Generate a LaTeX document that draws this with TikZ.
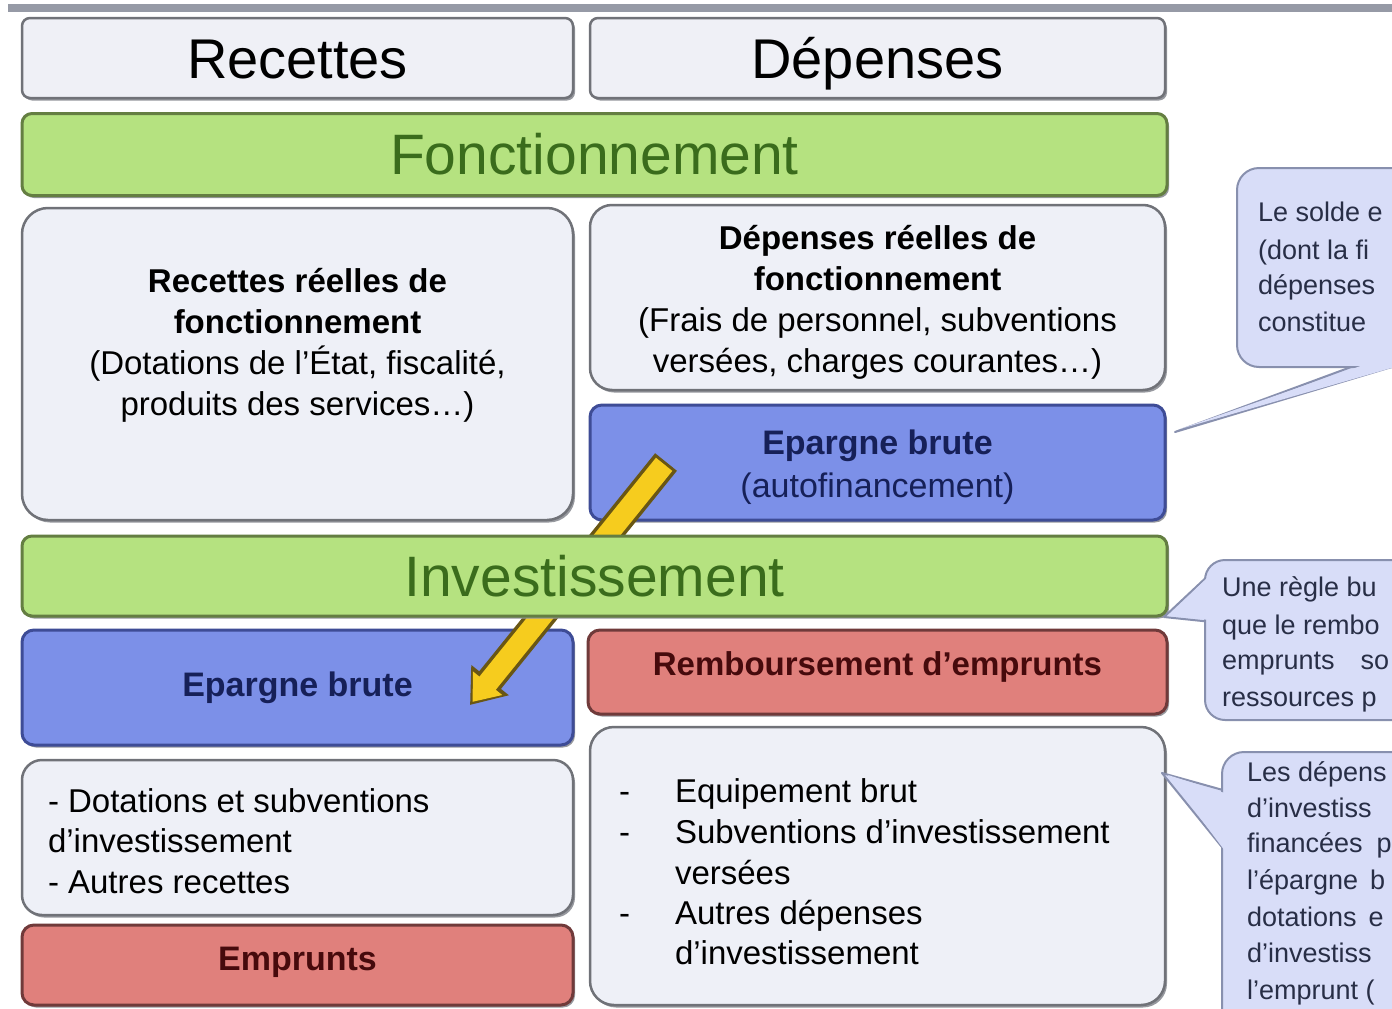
\documentclass[tikz,border=0pt]{standalone}
\usepackage{fontspec}
\setmainfont{Liberation Sans}
\usetikzlibrary{arrows.meta,calc}
\definecolor{hdrfill}{RGB}{239,240,246}
\definecolor{panefill}{RGB}{238,240,247}
\definecolor{bordergray}{RGB}{112,114,120}
\definecolor{greenfill}{RGB}{181,226,128}
\definecolor{greenborder}{RGB}{100,126,66}
\definecolor{greentext}{RGB}{58,108,28}
\definecolor{bluefill}{RGB}{124,144,232}
\definecolor{blueborder}{RGB}{62,76,150}
\definecolor{bluetext}{RGB}{22,32,88}
\definecolor{redfill}{RGB}{224,128,124}
\definecolor{redborder}{RGB}{112,58,58}
\definecolor{redtext}{RGB}{70,10,12}
\definecolor{callfill}{RGB}{216,221,248}
\definecolor{callborder}{RGB}{136,144,174}
\definecolor{calltext}{RGB}{40,46,70}
\definecolor{topband}{RGB}{150,154,166}
\definecolor{arrowfill}{RGB}{246,204,30}
\definecolor{arrowedge}{RGB}{105,86,20}
\definecolor{shadowgray}{RGB}{150,152,158}
\begin{document}
\begin{tikzpicture}[x=1pt,y=-1pt,
  every node/.style={inner sep=0pt, outer sep=0pt},
  shade/.style={preaction={fill=shadowgray, transform canvas={shift={(2pt,-2.5pt)}}}},
  hdr/.style={shade, rounded corners=8pt, fill=hdrfill, draw=bordergray, line width=2.5pt,
    font=\fontsize{56}{60}\selectfont, text height=42pt, text depth=2pt},
  bar/.style={shade, rounded corners=10pt, fill=greenfill, draw=greenborder, line width=3pt,
    text=greentext, font=\fontsize{57}{60}\selectfont, minimum width=1145pt, minimum height=82pt,
    text height=42pt, text depth=2pt},
  pane/.style={shade, rounded corners=26pt, fill=panefill, draw=bordergray, line width=2.5pt},
  bluebox/.style={shade, rounded corners=12pt, fill=bluefill, draw=blueborder, line width=3pt, text=bluetext},
  redbox/.style={shade, rounded corners=12pt, fill=redfill, draw=redborder, line width=3pt, text=redtext},
  body/.style={font=\fontsize{33}{41}\selectfont, align=center},
  item/.style={font=\fontsize{33}{41}\selectfont, anchor=base west},
  callout/.style={fill=callfill, draw=callborder, line width=2pt, line join=round},
  calltxt/.style={font=\fontsize{27}{36}\selectfont, text=calltext, anchor=base west}
]
\useasboundingbox (0,0) rectangle (1392,1009);
\clip (0,0) rectangle (1392,1009);
\fill[white] (0,0) rectangle (1392,1009);
\fill[topband] (8,4) rectangle (1392,12);

% headers
\node[hdr, minimum width=551pt, minimum height=80pt] (hrec) at (297.5,58) {Recettes};
\node[hdr, minimum width=575pt, minimum height=80pt] (hdep) at (877.5,58) {Dépenses};

% Fonctionnement
\node[bar] (fonc) at (594.5,154.5) {Fonctionnement};

% Recettes reelles
\node[pane, minimum width=551pt, minimum height=312pt] (rrf) at (297.5,364) {};
\node[body] (rrft) at (297.5,345) {\textbf{Recettes réelles de}\\\textbf{fonctionnement}\\(Dotations de l’État, fiscalité,\\produits des services…)};

% Depenses reelles
\node[pane, rounded corners=22pt, minimum width=575pt, minimum height=185pt] (drf) at (877.5,297.5) {};
\node[body] (drft) at (877.5,302) {\textbf{Dépenses réelles de}\\\textbf{fonctionnement}\\(Frais de personnel, subventions\\versées, charges courantes…)};

% Epargne brute (fonctionnement)
\node[bluebox, minimum width=575pt, minimum height=115pt] (epT) at (877.5,462.5) {};
\node[body, text=bluetext, font=\fontsize{34}{43}\selectfont] (epTt) at (877.5,467) {\textbf{Epargne brute}\\(autofinancement)};

% Investissement section boxes
\node[bluebox, minimum width=551pt, minimum height=115pt, font=\fontsize{34}{40}\selectfont\bfseries] (epL) at (297.5,687.5) {Epargne brute};
\node[redbox, minimum width=579pt, minimum height=84pt, font=\fontsize{33}{40}\selectfont\bfseries,
  text height=24pt, text depth=18pt] (remb) at (877.5,672) {Remboursement d’emprunts};

\node[pane, rounded corners=20pt, minimum width=551pt, minimum height=155pt] (lrec) at (297.5,837.5) {};
\node[item] (lr1) at (48,812) {- Dotations et subventions};
\node[item] (lr2) at (48,852) {d’investissement};
\node[item] (lr3) at (48,893) {- Autres recettes};

\node[redbox, minimum width=551pt, minimum height=80pt, font=\fontsize{34}{40}\selectfont\bfseries,
  text height=24pt, text depth=14pt] (empr) at (297.5,965) {Emprunts};

\node[pane, rounded corners=24pt, minimum width=575pt, minimum height=278pt] (ldep) at (877.5,866) {};
\node[item] (d1b) at (619,802) {-};
\node[item] (d1) at (675,802) {Equipement brut};
\node[item] (d2b) at (619,843) {-};
\node[item] (d2) at (675,843) {Subventions d’investissement};
\node[item] (d3) at (675,884) {versées};
\node[item] (d4b) at (619,924) {-};
\node[item] (d4) at (675,924) {Autres dépenses};
\node[item] (d5) at (675,964) {d’investissement};

% yellow arrow (passes under the Investissement bar)
\coordinate (arS) at (666,462);
\coordinate (arE) at (470,705);
\draw[line width=28pt, draw=arrowedge, -{Triangle[length=32pt,width=46pt]}] (arS) -- (arE);
\draw[line width=21pt, draw=arrowfill, -{Triangle[length=24pt,width=36pt]}, shorten >=4pt, shorten <=3pt] (arS) -- (arE);

% Investissement bar
\node[bar, minimum height=80pt] (inv) at (594.5,576) {Investissement};

% callout 1
\coordinate (c1tip) at (1175,432);
\draw[callout] (c1tip) -- (1370,360) -- (1415,360) -- cycle;
\draw[callout, rounded corners=22pt] (1237,168) rectangle (1430,367);
\fill[callfill] (1180,429) -- (1372,362) -- (1412,362) -- cycle;
\node[calltxt] (c1a) at (1258,221) {Le solde e};
\node[calltxt] (c1b) at (1258,259) {(dont la fi};
\node[calltxt] (c1c) at (1258,294) {dépenses};
\node[calltxt] (c1d) at (1258,331) {constitue};

% callout 2
\coordinate (c2tip) at (1164,617);
\draw[callout] (c2tip) -- (1212,572) -- (1212,622) -- cycle;
\draw[callout, rounded corners=20pt] (1205,560) rectangle (1430,720);
\fill[callfill] (1168,616) -- (1210,575) -- (1210,620) -- cycle;
\node[calltxt] (c2a) at (1222,596) {Une règle bu};
\node[calltxt] (c2b) at (1222,634) {que le rembo};
\node[calltxt] (c2c) at (1222,669) {emprunts\hspace{26pt}so};
\node[calltxt] (c2d) at (1222,706) {ressources p};

% callout 3
\coordinate (c3tip) at (1162,773);
\draw[callout] (c3tip) -- (1230,792) -- (1230,857) -- cycle;
\draw[callout, rounded corners=22pt] (1222,752) rectangle (1430,1040);
\fill[callfill] (1168,775) -- (1228,794) -- (1228,855) -- cycle;
\node[calltxt] (c3a) at (1247,781) {Les dépens};
\node[calltxt] (c3b) at (1247,817) {d’investiss};
\node[calltxt] (c3c) at (1247,852) {financées\hspace{14pt}p};
\node[calltxt] (c3d) at (1247,889) {l’épargne\hspace{12pt}b};
\node[calltxt] (c3e) at (1247,926) {dotations\hspace{12pt}e};
\node[calltxt] (c3f) at (1247,962) {d’investiss};
\node[calltxt] (c3g) at (1247,999) {l’emprunt (};
\end{tikzpicture}
\end{document}
